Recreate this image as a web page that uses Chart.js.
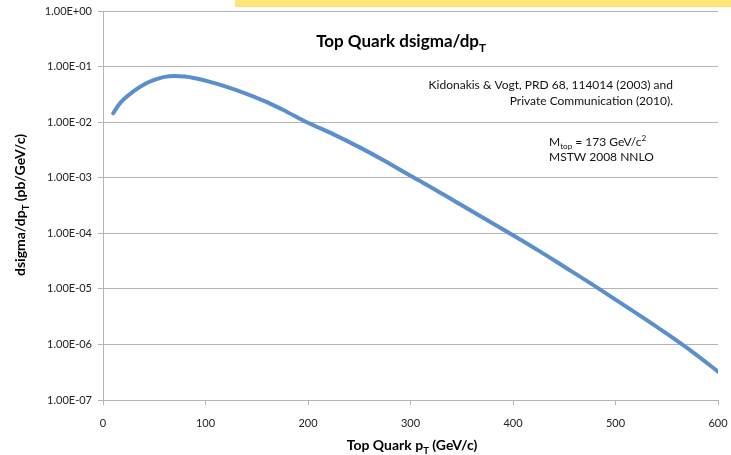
<!DOCTYPE html>
<html>
<head>
<meta charset="utf-8">
<script src="https://cdn.jsdelivr.net/npm/chart.js@4.4.1/dist/chart.umd.min.js"></script>
<style>
  html, body { margin: 0; padding: 0; background: #ffffff; }
  #wrap { width: 731px; height: 455px; position: relative; }
</style>
</head>
<body>
<div id="wrap"><canvas id="c" width="731" height="455"></canvas></div>
<script>
// ---- Data ----
const ptValues = [10, 15, 20, 30, 40, 50, 60, 70, 80, 90, 100, 120, 140, 160, 180, 200, 225, 250, 275, 300, 325, 350, 375, 400, 425, 450, 475, 500, 525, 550, 575, 600];
const dsigmaValues = [0.01445, 0.0200, 0.0255, 0.0362, 0.0478, 0.0575, 0.0652, 0.0678, 0.0660, 0.0615, 0.0560, 0.0437, 0.0324, 0.0229, 0.0151, 0.00977, 0.00603, 0.00355, 0.00200, 0.00108, 5.95e-4, 3.20e-4, 1.72e-4, 9.25e-5, 4.88e-5, 2.50e-5, 1.28e-5, 6.40e-6, 3.20e-6, 1.56e-6, 7.35e-7, 3.25e-7];
const yTickValues = [1, 1e-1, 1e-2, 1e-3, 1e-4, 1e-5, 1e-6, 1e-7];
const yTickLabels = ['1.00E+00', '1.00E-01', '1.00E-02', '1.00E-03', '1.00E-04', '1.00E-05', '1.00E-06', '1.00E-07'];
const xTickValues = [0, 100, 200, 300, 400, 500, 600];

const FONT = 'Lato, "Open Sans", sans-serif';
const GRID = '#b4b4b4';

function drawRich(ctx, parts, x, y, align, size, weight, color) {
  let total = 0;
  const widths = parts.map(p => {
    const s = p.sub || p.sup ? size * 0.68 : size;
    ctx.font = weight + ' ' + s + 'px ' + FONT;
    const w = ctx.measureText(p.t).width;
    total += w;
    return w;
  });
  let cx = align === 'center' ? x - total / 2 : (align === 'right' ? x - total : x);
  ctx.fillStyle = color;
  ctx.textBaseline = 'alphabetic';
  ctx.textAlign = 'left';
  parts.forEach((p, i) => {
    const s = p.sub || p.sup ? size * 0.68 : size;
    ctx.font = weight + ' ' + s + 'px ' + FONT;
    let dy = 0;
    if (p.sub) dy = size * 0.28;
    if (p.sup) dy = -size * 0.38;
    ctx.fillText(p.t, cx, y + dy);
    cx += widths[i];
  });
}

const textPlugin = {
  id: 'texts',
  beforeDraw(chart) {
    const ctx = chart.ctx;
    ctx.save();
    ctx.fillStyle = '#ffe477';
    ctx.fillRect(235, 0, 496, 7);
    ctx.restore();
  },
  afterDraw(chart) {
    const ctx = chart.ctx;
    ctx.save();
    // Title
    drawRich(ctx, [{t: 'Top Quark dsigma/dp'}, {t: 'T', sub: true}], 401, 47, 'center', 17, 'bold', '#000');
    // Annotations
    drawRich(ctx, [{t: 'Kidonakis & Vogt, PRD 68, 114014 (2003) and'}], 673, 89, 'right', 12, 'normal', '#111');
    drawRich(ctx, [{t: 'Private Communication (2010).'}], 673, 105, 'right', 12, 'normal', '#111');
    drawRich(ctx, [{t: 'M'}, {t: 'top', sub: true}, {t: ' = 173 GeV/c'}, {t: '2', sup: true}], 549, 146, 'left', 12, 'normal', '#111');
    drawRich(ctx, [{t: 'MSTW 2008 NNLO'}], 549, 161, 'left', 12, 'normal', '#111');
    // X axis title
    drawRich(ctx, [{t: 'Top Quark p'}, {t: 'T', sub: true}, {t: ' (GeV/c)'}], 412, 450, 'center', 14, 'bold', '#000');
    // Y axis title (rotated)
    ctx.translate(25, 205);
    ctx.rotate(-Math.PI / 2);
    drawRich(ctx, [{t: 'dsigma/dp'}, {t: 'T', sub: true}, {t: ' (pb/GeV/c)'}], 0, 0, 'center', 14, 'bold', '#000');
    ctx.restore();
  }
};

new Chart(document.getElementById('c'), {
  type: 'line',
  data: {
    datasets: [{
      data: ptValues.map((x, i) => ({x: x, y: dsigmaValues[i]})),
      borderColor: '#5b8fcb',
      borderWidth: 4,
      pointRadius: 0,
      fill: false,
      tension: 0.35,
      borderCapStyle: 'round'
    }]
  },
  options: {
    responsive: false,
    animation: false,
    devicePixelRatio: 1,
    layout: { padding: { top: 11, right: 13, left: 0, bottom: 0 } },
    plugins: { legend: { display: false }, title: { display: false }, tooltip: { enabled: false } },
    scales: {
      x: {
        type: 'linear',
        min: 0, max: 600,
        afterBuildTicks: s => { s.ticks = xTickValues.map(v => ({value: v})); },
        afterFit: s => { s.height = 55; s.paddingLeft = 0; s.paddingRight = 0; },
        ticks: { color: '#222', font: { family: FONT, size: 11 }, padding: 12, maxRotation: 0 },
        grid: { drawOnChartArea: false, color: GRID, tickLength: 5 },
        border: { color: GRID, width: 1 }
      },
      y: {
        type: 'logarithmic',
        min: 1e-7, max: 1,
        afterBuildTicks: s => { s.ticks = yTickValues.map(v => ({value: v})); },
        afterFit: s => { s.width = 103; s.paddingTop = 0; s.paddingBottom = 0; },
        ticks: {
          color: '#222', font: { family: FONT, size: 11 }, padding: 6,
          callback: (v) => { const i = yTickValues.findIndex(t => Math.abs(Math.log10(t) - Math.log10(v)) < 1e-6); return i >= 0 ? yTickLabels[i] : ''; }
        },
        grid: { color: GRID, tickLength: 5 },
        border: { color: GRID, width: 1 }
      }
    }
  },
  plugins: [textPlugin]
});
</script>
</body>
</html>
